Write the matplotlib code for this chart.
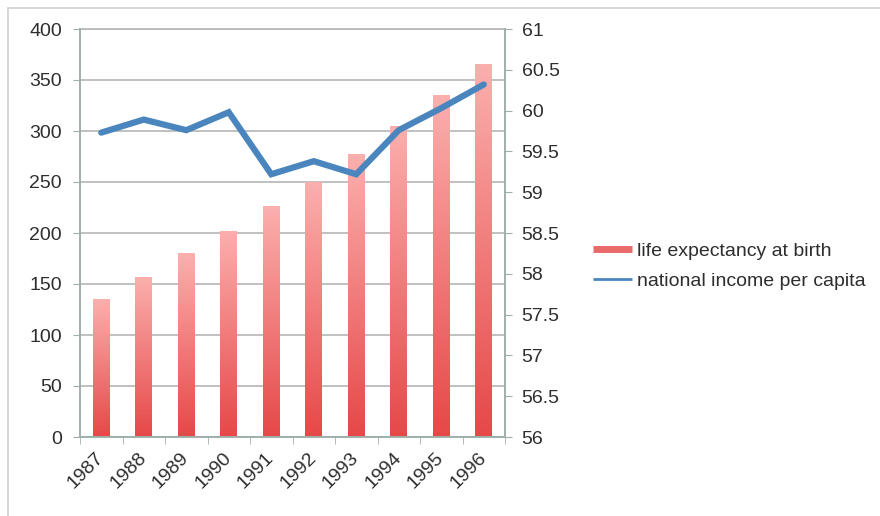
import numpy as np
import matplotlib
matplotlib.use("Agg")
import matplotlib.pyplot as plt
from matplotlib.colors import LinearSegmentedColormap
from matplotlib.patches import Rectangle
from matplotlib.lines import Line2D

years = ["1987", "1988", "1989", "1990", "1991", "1992", "1993", "1994", "1995", "1996"]
life_expectancy = [135, 157, 180, 202, 226, 250, 277, 305, 335, 366]
national_income = [59.73, 59.89, 59.76, 59.98, 59.22, 59.38, 59.22, 59.76, 60.03, 60.32]
left_ticks = [0, 50, 100, 150, 200, 250, 300, 350, 400]
right_ticks = [56, 56.5, 57, 57.5, 58, 58.5, 59, 59.5, 60, 60.5, 61]
right_labels = ["56", "56.5", "57", "57.5", "58", "58.5", "59", "59.5", "60", "60.5", "61"]

plt.rcParams['font.family'] = ['Liberation Sans', 'DejaVu Sans']
FS = 14
TXT = '#2e2e2e'
AXC = '#a0b0a8'

fig = plt.figure(figsize=(8.8, 5.16), dpi=100)
ax = fig.add_axes([80/880, 1-437/516, 425/880, 408/516])
ax2 = ax.twinx()

x = np.arange(len(years))
bars = ax.bar(x, life_expectancy, width=0.4, color='none', edgecolor='none', zorder=2)
cmap = LinearSegmentedColormap.from_list('g', ['#e64848', '#fbb0ae'])
grad = np.linspace(0, 1, 256).reshape(-1, 1)
for b in bars:
    x0, y0 = b.get_x(), b.get_y()
    w, h = b.get_width(), b.get_height()
    im = ax.imshow(grad, cmap=cmap, origin='lower', aspect='auto',
                   extent=[x0, x0 + w, y0, y0 + h], zorder=2)
    im.set_clip_path(b)

ax.set_xlim(-0.5, len(years) - 0.5)
ax.set_ylim(0, 400)
ax.set_yticks(left_ticks)
ax.yaxis.grid(True, color='#b5b5b5', linewidth=1.2, zorder=0)
ax.set_axisbelow(True)
ax.set_xticks(x)
ax.set_xticklabels(years, rotation=45, ha='right', va='center', rotation_mode='anchor',
                   fontsize=FS, color=TXT)
ax.set_xticks(np.arange(-0.5, len(years)), minor=True)
ax.tick_params(axis='x', which='major', length=0, pad=13)
ax.tick_params(axis='x', which='minor', length=5, color=AXC)
ax.tick_params(axis='y', length=5, color=AXC, labelsize=FS, labelcolor=TXT, pad=8)

ax2.plot(x, national_income, color='#4a86bd', linewidth=4.5, solid_joinstyle='miter',
         solid_capstyle='round', zorder=3)
ax2.set_ylim(56, 61)
ax2.set_yticks(right_ticks)
ax2.set_yticklabels(right_labels)
ax2.tick_params(axis='y', length=5, color=AXC, labelsize=FS, labelcolor=TXT, pad=7)

for a in (ax, ax2):
    a.spines['top'].set_visible(False)
    for s in ('left', 'right', 'bottom'):
        a.spines[s].set_color(AXC)
        a.spines[s].set_linewidth(1.2)
ax.spines['top'].set_visible(True)
ax.spines['top'].set_color('#b5b5b5')
ax.spines['top'].set_linewidth(1.2)

handles = [Line2D([0], [0], color='#ea6a6a', linewidth=5, solid_capstyle='butt'),
           Line2D([0], [0], color='#4a86bd', linewidth=2, solid_capstyle='butt')]
fig.legend(handles, ['life expectancy at birth', 'national income per capita'],
           loc='center left', bbox_to_anchor=(593/880, 1-266/516),
           frameon=False, fontsize=FS, handlelength=2.0, handletextpad=0.25,
           labelspacing=0.62, labelcolor=TXT, borderpad=0, borderaxespad=0)

fig.patches.append(Rectangle((8/880, -0.05), 1.0, 1 - 8/516 + 0.05, transform=fig.transFigure,
                             fill=False, edgecolor='#d0d0d0', linewidth=1.2))

fig.savefig('out.png', dpi=100)
